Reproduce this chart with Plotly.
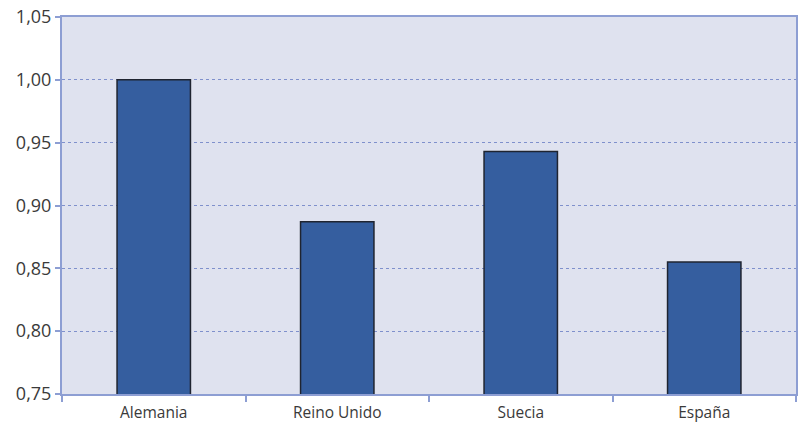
import plotly.graph_objects as go

# Values per country
paises = ["Alemania", "Reino Unido", "Suecia", "España"]
valores = [1.000, 0.887, 0.943, 0.855]

# Axis configuration
y_min, y_max, y_step = 0.75, 1.05, 0.05

axis_color = "#8d9ed3"
grid_color = "#7f90cc"
bg_color = "#dfe2ef"
bar_color = "#355e9f"

fig = go.Figure(
    go.Bar(
        x=paises,
        y=valores,
        width=0.40,
        marker=dict(color=bar_color, line=dict(color="#1f2430", width=1.5)),
    )
)

fig.update_layout(
    width=799,
    height=424,
    margin=dict(l=62, r=1, t=17, b=29),
    paper_bgcolor="white",
    plot_bgcolor=bg_color,
    separators=", ",
    showlegend=False,
    font=dict(family="Open Sans, DejaVu Sans, sans-serif", size=15, color="#3a3a3a"),
)

fig.update_xaxes(
    showline=True,
    linecolor=axis_color,
    linewidth=2,
    mirror=True,
    ticks="outside",
    tickson="boundaries",
    ticklen=6,
    tickcolor=axis_color,
    tickwidth=1.5,
    tickfont=dict(size=15.5),
    ticklabelstandoff=3,
    showgrid=False,
)

fig.update_yaxes(
    range=[y_min, y_max],
    dtick=y_step,
    tick0=y_min,
    tickformat=".2f",
    showline=True,
    linecolor=axis_color,
    linewidth=2,
    mirror=True,
    ticks="outside",
    ticklen=5,
    tickcolor=axis_color,
    tickwidth=1.5,
    showgrid=True,
    gridcolor=grid_color,
    griddash="dot",
    gridwidth=1.3,
    zeroline=False,
    tickfont=dict(size=18),
)

fig.write_html("out.html")
